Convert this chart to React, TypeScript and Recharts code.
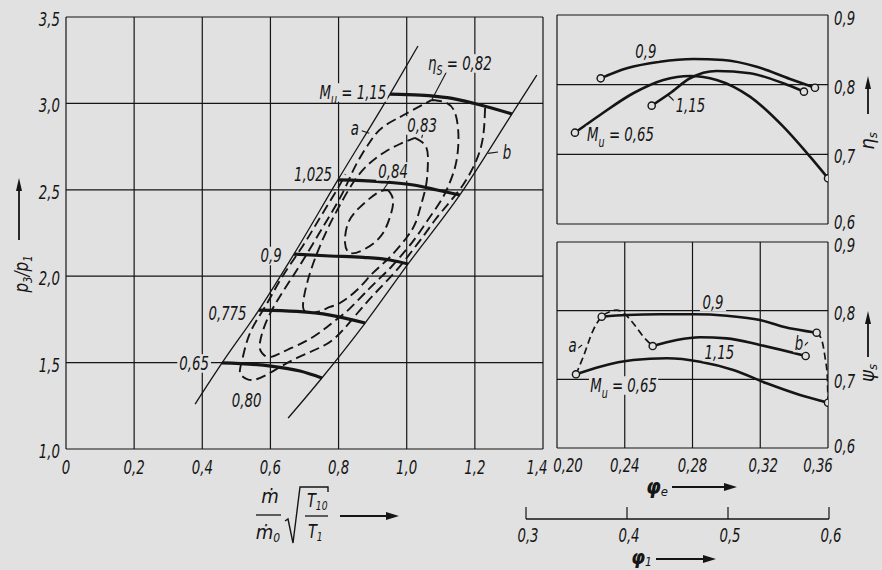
import React from 'react';
import { ComposedChart, Line, Scatter, XAxis, YAxis, CartesianGrid } from 'recharts';

const BG = '#e1e1e1';
const INK = '#151515';
const FONT = "'Liberation Sans Narrow','DejaVu Sans Condensed','Liberation Sans','DejaVu Sans',sans-serif";
const FS = 19.5;
const SQ = 0.76; // horizontal condensing of lettering

type P = [number, number];

// ---------- main map: pressure ratio vs reduced mass flow ----------
const massFlowTicks = [0, 0.2, 0.4, 0.6, 0.8, 1.0, 1.2, 1.4];
const massFlowTickLabels = ['0', '0,2', '0,4', '0,6', '0,8', '1,0', '1,2', '1,4'];
const pressureTicks = [1, 1.5, 2, 2.5, 3, 3.5];
const pressureTickLabels = ['1,0', '1,5', '2,0', '2,5', '3,0', '3,5'];

const surgeLineA: P[] = [[0.379, 1.26], [0.458, 1.498], [0.566, 1.804], [0.669, 2.128], [0.798, 2.557], [0.951, 3.054], [1.033, 3.332]];
const chokeLineB: P[] = [[0.652, 1.179], [0.751, 1.411], [0.878, 1.729], [1.004, 2.071], [1.156, 2.47], [1.309, 2.939], [1.382, 3.164]];

const speed065: P[] = [[0.458, 1.498], [0.601, 1.48], [0.687, 1.451], [0.751, 1.411]];
const speed0775: P[] = [[0.566, 1.804], [0.678, 1.796], [0.775, 1.775], [0.878, 1.729]];
const speed09: P[] = [[0.669, 2.128], [0.775, 2.117], [0.873, 2.109], [0.951, 2.094], [1.004, 2.071]];
const speed1025: P[] = [[0.798, 2.557], [0.922, 2.547], [1.02, 2.528], [1.089, 2.499], [1.156, 2.47]];
const speed115: P[] = [[0.951, 3.054], [1.04, 3.048], [1.119, 3.033], [1.196, 3.001], [1.309, 2.939]];

const eff084: P[] = [[0.945, 2.499], [0.96, 2.441], [0.951, 2.343], [0.922, 2.227], [0.872, 2.152], [0.834, 2.134], [0.819, 2.192], [0.828, 2.308], [0.863, 2.4], [0.913, 2.481], [0.945, 2.499]];
const eff083: P[] = [[1.024, 2.8], [1.057, 2.748], [1.062, 2.644], [1.057, 2.528], [1.042, 2.412], [1.027, 2.314], [1.001, 2.227], [0.951, 2.111], [0.901, 2.019], [0.854, 1.92], [0.804, 1.845], [0.775, 1.822], [0.737, 1.793], [0.704, 1.793], [0.696, 1.845], [0.71, 1.978], [0.737, 2.134], [0.769, 2.279], [0.804, 2.412], [0.848, 2.557], [0.892, 2.655], [0.936, 2.719], [0.98, 2.765], [1.024, 2.8]];
const eff082: P[] = [[1.074, 3.02], [1.118, 3.002], [1.142, 2.944], [1.151, 2.846], [1.151, 2.748], [1.142, 2.632], [1.121, 2.516], [1.098, 2.429], [1.062, 2.325], [1.03, 2.233], [0.998, 2.152], [0.957, 2.059], [0.922, 1.99], [0.886, 1.92], [0.828, 1.804], [0.792, 1.747], [0.725, 1.648], [0.649, 1.573], [0.599, 1.532], [0.575, 1.556], [0.569, 1.613], [0.59, 1.747], [0.634, 1.903], [0.687, 2.065], [0.74, 2.238], [0.784, 2.383], [0.819, 2.51], [0.851, 2.644], [0.892, 2.777], [0.93, 2.863], [0.98, 2.921], [1.018, 2.962], [1.074, 3.02]];
const eff080: P[] = [[1.23, 2.973], [1.227, 2.858], [1.218, 2.748], [1.197, 2.638], [1.165, 2.528], [1.124, 2.424], [1.083, 2.325], [1.051, 2.238], [1.018, 2.152], [0.971, 2.036], [0.916, 1.92], [0.863, 1.804], [0.813, 1.689], [0.76, 1.602], [0.678, 1.527], [0.608, 1.451], [0.561, 1.405], [0.531, 1.405], [0.511, 1.44], [0.517, 1.515], [0.54, 1.671], [0.584, 1.822], [0.634, 1.995], [0.693, 2.169], [0.745, 2.337], [0.795, 2.499], [0.82, 2.59]];

const mainLeaders: P[][] = [
  [[1.117, 3.183], [1.074, 3.023]],
  [[1.048, 2.83], [1.044, 2.8]],
  [[0.951, 2.557], [0.931, 2.499]],
  [[0.868, 2.842], [0.89, 2.827]],
  [[1.268, 2.719], [1.239, 2.711]],
];

const mainLabels = [
  { x: 0.842, y: 3.066, text: 'M_u = 1,15' },
  { x: 1.156, y: 3.234, text: 'η_S = 0,82' },
  { x: 1.045, y: 2.875, text: '0,83' },
  { x: 0.96, y: 2.609, text: '0,84' },
  { x: 0.848, y: 2.858, text: 'a' },
  { x: 1.294, y: 2.719, text: 'b' },
  { x: 0.725, y: 2.589, text: '1,025' },
  { x: 0.602, y: 2.12, text: '0,9' },
  { x: 0.474, y: 1.79, text: '0,775' },
  { x: 0.376, y: 1.498, text: '0,65' },
  { x: 0.53, y: 1.284, text: '0,80' },
];

// ---------- right panels: vs phi_e ----------
const phiETicks = [0.2, 0.24, 0.28, 0.32, 0.36];
const phiETickLabels = ['0,20', '0,24', '0,28', '0,32', '0,36'];
const coeffTicks = [0.6, 0.7, 0.8, 0.9];
const coeffTickLabels = ['0,6', '0,7', '0,8', '0,9'];

const etaCurve09: P[] = [[0.2258, 0.8091], [0.2412, 0.8234], [0.2608, 0.8329], [0.2805, 0.8368], [0.2982, 0.8353], [0.3179, 0.8257], [0.3376, 0.8081], [0.3523, 0.7956]];
const etaCurve115: P[] = [[0.2559, 0.7699], [0.2667, 0.7877], [0.2785, 0.8092], [0.2943, 0.8197], [0.3139, 0.8164], [0.3336, 0.802], [0.3458, 0.79]];
const etaCurve065: P[] = [[0.2106, 0.7311], [0.2254, 0.7565], [0.245, 0.7877], [0.2628, 0.8068], [0.2785, 0.8125], [0.2943, 0.8068], [0.3139, 0.7828], [0.3336, 0.7397], [0.3494, 0.6966], [0.36, 0.6656]];
const etaLeaders: P[][] = [[[0.2707, 0.7733], [0.2655, 0.7852]]];
const etaLabels = [
  { x: 0.2525, y: 0.8484, text: '0,9' },
  { x: 0.2788, y: 0.7709, text: '1,15' },
  { x: 0.2375, y: 0.7285, text: 'M_u = 0,65' },
];

const psiCurve09: P[] = [[0.2264, 0.7912], [0.2412, 0.7936], [0.2608, 0.7947], [0.2805, 0.7947], [0.3002, 0.7926], [0.3199, 0.7864], [0.3336, 0.7766], [0.3533, 0.7679]];
const psiCurve115: P[] = [[0.2565, 0.7485], [0.2707, 0.7572], [0.2844, 0.7612], [0.3002, 0.7597], [0.3199, 0.75], [0.3468, 0.734]];
const psiCurve065: P[] = [[0.2112, 0.7073], [0.2254, 0.7184], [0.245, 0.7281], [0.2648, 0.7306], [0.2844, 0.7257], [0.3041, 0.7136], [0.3238, 0.6942], [0.3435, 0.6772], [0.36, 0.666]];
const psiSurgeA: P[] = [[0.2112, 0.7073], [0.2155, 0.7329], [0.2214, 0.7718], [0.2264, 0.7912], [0.2313, 0.7985], [0.2352, 0.8009], [0.2391, 0.797], [0.245, 0.7816], [0.251, 0.7621], [0.2565, 0.7485]];
const psiChokeB: P[] = [[0.3533, 0.7679], [0.3563, 0.7572], [0.3582, 0.7329], [0.3596, 0.7038], [0.36, 0.666]];
const psiLeaders: P[][] = [[[0.2118, 0.7442], [0.2148, 0.75]], [[0.3452, 0.7471], [0.3482, 0.7543]]];
const psiLabels = [
  { x: 0.2921, y: 0.8133, text: '0,9' },
  { x: 0.2959, y: 0.7405, text: '1,15' },
  { x: 0.2393, y: 0.6917, text: 'M_u = 0,65' },
  { x: 0.2092, y: 0.75, text: 'a' },
  { x: 0.3429, y: 0.7536, text: 'b' },
];

// ---------- secondary scale phi_1 ----------
const phi1Ticks = [0.3, 0.4, 0.5, 0.6];
const phi1TickLabels = ['0,3', '0,4', '0,5', '0,6'];

const pts = (a: P[]) => a.map(([x, y]) => ({ x, y }));

function parseRich(s: string) {
  const segs: { t: string; sub: boolean }[] = [];
  let buf = '';
  for (let i = 0; i < s.length; i++) {
    if (s[i] === '_' && i + 1 < s.length) {
      if (buf) segs.push({ t: buf, sub: false });
      buf = '';
      segs.push({ t: s[i + 1], sub: true });
      i++;
    } else buf += s[i];
  }
  if (buf) segs.push({ t: buf, sub: false });
  return segs;
}

// condensed italic text drawn at (x, y) baseline
function CText({ x, y, anchor = 'middle', fs = FS, children, weight }: any) {
  return (
    <g transform={`translate(${x},${y}) scale(${SQ},1)`}>
      <text x={0} y={0} textAnchor={anchor} fontFamily={FONT} fontStyle="italic" fontSize={fs} fontWeight={weight} fill={INK} style={{ whiteSpace: 'pre' }}>
        {children}
      </text>
    </g>
  );
}

function RichLabel({ cx, cy, text, fs = FS }: { cx: number; cy: number; text: string; fs?: number }) {
  const segs = parseRich(text);
  const w = SQ * segs.reduce((acc, s) => acc + s.t.length * (s.sub ? 0.4 : 0.5) * fs, 0);
  let prevSub = false;
  const kids = segs.map((s, i) => {
    const dy = s.sub ? fs * 0.28 : prevSub ? -fs * 0.28 : 0;
    prevSub = s.sub;
    return (
      <tspan key={i} dy={dy} fontSize={s.sub ? fs * 0.72 : fs}>
        {s.t}
      </tspan>
    );
  });
  return (
    <g>
      <rect x={cx - w / 2 - 2} y={cy - fs * 0.45} width={w + 4} height={fs * 0.95} fill={BG} />
      <CText x={cx} y={cy + fs * 0.36} fs={fs}>
        {kids}
      </CText>
    </g>
  );
}

const labelShape = (p: any) => <RichLabel cx={p.cx} cy={p.cy} text={p.payload.text} />;

const lookup = (ticks: number[], labels: string[], v: number) => {
  const i = ticks.findIndex((t) => Math.abs(t - v) < 1e-9);
  return i >= 0 ? labels[i] : '';
};
const near = (a: number, b: number) => Math.abs(a - b) < 1e-9;

const MainXTick = (p: any) => (
  <CText x={p.x + (near(p.payload.value, 1.4) ? -6 : 0)} y={p.y + 25}>
    {lookup(massFlowTicks, massFlowTickLabels, p.payload.value)}
  </CText>
);
const MainYTick = (p: any) => (
  <CText x={p.x} y={p.y + 9} anchor="end">
    {lookup(pressureTicks, pressureTickLabels, p.payload.value)}
  </CText>
);
const rightShift = (v: number) => (near(v, 0.6) ? 5 : near(v, 0.9) ? 10 : 9);
const RightYTick = (p: any) => (
  <CText x={p.x} y={p.y + rightShift(p.payload.value)} anchor="start">
    {lookup(coeffTicks, coeffTickLabels, p.payload.value)}
  </CText>
);
const phiEShift = (v: number) => (near(v, 0.2) ? 11 : near(v, 0.36) ? -10 : near(v, 0.32) ? 3 : 0);
const PhiETick = (p: any) => (
  <CText x={p.x + phiEShift(p.payload.value)} y={p.y + 24}>
    {lookup(phiETicks, phiETickLabels, p.payload.value)}
  </CText>
);
const Phi1Tick = (p: any) => (
  <g>
    <line x1={p.x} y1={p.y} x2={p.x} y2={p.y - 12} stroke={INK} strokeWidth={1.2} />
    <CText x={p.x + 2} y={p.y + 23}>
      {lookup(phi1Ticks, phi1TickLabels, p.payload.value)}
    </CText>
  </g>
);

const endDots = (len: number) => (p: any) =>
  p.index === 0 || p.index === len - 1 ? (
    <circle key={`d${p.index}`} cx={p.cx} cy={p.cy} r={3.6} fill={BG} stroke={INK} strokeWidth={1.4} />
  ) : (
    <g key={`d${p.index}`} />
  );

const abs: React.CSSProperties = { position: 'absolute', left: 0, top: 0 };

function thinLine(data: P[], key: string, w = 1.3) {
  return (
    <Line key={key} data={pts(data)} dataKey="y" type="monotone" stroke={INK} strokeWidth={w} dot={false} activeDot={false} isAnimationActive={false} />
  );
}

export default function App() {
  return (
    <div style={{ ...abs, width: 882, height: 570, background: BG, overflow: 'hidden' }}>
      {/* main map */}
      <div style={abs}>
        <ComposedChart width={882} height={570} margin={{ top: 17, left: 6, right: 339, bottom: 91 }}>
          <CartesianGrid stroke={INK} strokeWidth={1.2} />
          <XAxis dataKey="x" type="number" domain={[0, 1.4]} ticks={massFlowTicks} allowDataOverflow height={30} axisLine={false} tickLine={false} tickSize={0} tickMargin={0} tick={MainXTick} interval={0} />
          <YAxis dataKey="y" type="number" domain={[1, 3.5]} ticks={pressureTicks} allowDataOverflow width={60} axisLine={false} tickLine={false} tickSize={0} tickMargin={6} tick={MainYTick} interval={0} />
          {[eff080, eff082, eff083, eff084].map((c, i) => (
            <Line key={`e${i}`} data={pts(c)} dataKey="y" type="natural" stroke={INK} strokeWidth={1.9} strokeDasharray="10 5" dot={false} activeDot={false} isAnimationActive={false} />
          ))}
          {thinLine(surgeLineA, 'a')}
          {thinLine(chokeLineB, 'b')}
          {[speed065, speed0775, speed09, speed1025, speed115].map((c, i) => (
            <Line key={`m${i}`} data={pts(c)} dataKey="y" type="monotone" stroke={INK} strokeWidth={3.2} dot={false} activeDot={false} isAnimationActive={false} />
          ))}
          {mainLeaders.map((c, i) => thinLine(c, `l${i}`, 1.1))}
          <Scatter data={mainLabels} shape={labelShape} isAnimationActive={false} />
        </ComposedChart>
      </div>

      {/* efficiency panel */}
      <div style={abs}>
        <ComposedChart width={882} height={570} margin={{ top: 15, left: 557, right: 14, bottom: 346 }}>
          <CartesianGrid stroke={INK} strokeWidth={1.2} />
          <XAxis dataKey="x" type="number" domain={[0.2, 0.36]} ticks={phiETicks} allowDataOverflow height={0} axisLine={false} tickLine={false} tick={false} interval={0} />
          <YAxis dataKey="y" type="number" orientation="right" domain={[0.6, 0.9]} ticks={coeffTicks} allowDataOverflow width={40} axisLine={false} tickLine={false} tickSize={0} tickMargin={6} tick={RightYTick} interval={0} />
          {[etaCurve065, etaCurve115, etaCurve09].map((c, i) => (
            <Line key={`h${i}`} data={pts(c)} dataKey="y" type="monotone" stroke={INK} strokeWidth={2.6} dot={endDots(c.length)} activeDot={false} isAnimationActive={false} />
          ))}
          {etaLeaders.map((c, i) => thinLine(c, `hl${i}`, 1.1))}
          <Scatter data={etaLabels} shape={labelShape} isAnimationActive={false} />
        </ComposedChart>
      </div>

      {/* pressure coefficient panel */}
      <div style={abs}>
        <ComposedChart width={882} height={570} margin={{ top: 242, left: 557, right: 14, bottom: 92 }}>
          <CartesianGrid stroke={INK} strokeWidth={1.2} />
          <XAxis dataKey="x" type="number" domain={[0.2, 0.36]} ticks={phiETicks} allowDataOverflow height={30} axisLine={false} tickLine={false} tickSize={0} tickMargin={0} tick={PhiETick} interval={0} />
          <YAxis dataKey="y" type="number" orientation="right" domain={[0.6, 0.9]} ticks={coeffTicks} allowDataOverflow width={40} axisLine={false} tickLine={false} tickSize={0} tickMargin={6} tick={RightYTick} interval={0} />
          {[psiSurgeA, psiChokeB].map((c, i) => (
            <Line key={`s${i}`} data={pts(c)} dataKey="y" type="monotone" stroke={INK} strokeWidth={1.7} strokeDasharray="7 4" dot={false} activeDot={false} isAnimationActive={false} />
          ))}
          {psiLeaders.map((c, i) => thinLine(c, `pl${i}`, 1.1))}
          {[psiCurve065, psiCurve115, psiCurve09].map((c, i) => (
            <Line key={`p${i}`} data={pts(c)} dataKey="y" type="monotone" stroke={INK} strokeWidth={2.6} dot={endDots(c.length)} activeDot={false} isAnimationActive={false} />
          ))}
          <Scatter data={psiLabels} shape={labelShape} isAnimationActive={false} />
        </ComposedChart>
      </div>

      {/* phi_1 scale */}
      <div style={abs}>
        <ComposedChart width={882} height={570} margin={{ top: 490, left: 526, right: 53, bottom: 21 }}>
          <XAxis dataKey="x" type="number" domain={[0.3, 0.6]} ticks={phi1Ticks} height={30} axisLine={{ stroke: INK, strokeWidth: 1.3 }} tickLine={false} tickSize={0} tickMargin={0} tick={Phi1Tick} interval={0} />
          <YAxis dataKey="y" type="number" domain={[0, 1]} hide />
          <Line data={phi1Ticks.map((v) => ({ x: v, y: 0 }))} dataKey="y" stroke="none" dot={false} activeDot={false} isAnimationActive={false} />
        </ComposedChart>
      </div>

      {/* axis titles */}
      <svg width={882} height={570} style={{ ...abs, pointerEvents: 'none' }} fontFamily={FONT} fontStyle="italic" fill={INK}>
        <g transform="translate(28,274) rotate(-90) scale(0.85,1)">
          <text textAnchor="middle" fontSize={20}>
            p<tspan fontSize={13} dy={4}>3</tspan>
            <tspan fontSize={20} dy={-4}>/p</tspan>
            <tspan fontSize={13} dy={4}>1</tspan>
          </text>
        </g>
        <line x1={19} y1={240} x2={19} y2={188} stroke={INK} strokeWidth={1.8} />
        <polygon points="19,178 16,191 22,191" fill={INK} />

        {/* x title: m/m0 sqrt(T10/T1) */}
        <text x={270} y={503} textAnchor="middle" fontSize={20}>ṁ</text>
        <line x1={256} y1={515} x2={281} y2={515} stroke={INK} strokeWidth={1.3} />
        <text x={268} y={539} textAnchor="middle" fontSize={20}>
          ṁ<tspan fontSize={12} dy={3}>0</tspan>
        </text>
        <polyline points="285,521 288,519 293,543 300,487 328,487 328,492" fill="none" stroke={INK} strokeWidth={1.4} />
        <g transform="translate(307,507) scale(0.85,1)">
          <text fontSize={19}>
            T<tspan fontSize={12} dy={3}>10</tspan>
          </text>
        </g>
        <line x1={305} y1={516} x2={328} y2={516} stroke={INK} strokeWidth={1.3} />
        <g transform="translate(308,538) scale(0.85,1)">
          <text fontSize={19}>
            T<tspan fontSize={12} dy={3}>1</tspan>
          </text>
        </g>
        <line x1={340} y1={516} x2={388} y2={516} stroke={INK} strokeWidth={2} />
        <polygon points="399,516 386,512 386,520" fill={INK} />

        {/* eta_s */}
        <g transform="translate(874,141) rotate(-90)">
          <text textAnchor="middle" fontSize={20}>
            η<tspan fontSize={13} dy={3}>s</tspan>
          </text>
        </g>
        <line x1={868} y1={114} x2={868} y2={86} stroke={INK} strokeWidth={1.8} />
        <polygon points="868,76 865,89 871,89" fill={INK} />

        {/* psi_s */}
        <g transform="translate(874,373) rotate(-90)">
          <text textAnchor="middle" fontSize={20}>
            ψ<tspan fontSize={13} dy={3}>s</tspan>
          </text>
        </g>
        <line x1={868} y1={357} x2={868} y2={322} stroke={INK} strokeWidth={1.8} />
        <polygon points="868,311 865,324 871,324" fill={INK} />

        {/* phi_e */}
        <text x={646} y={494} fontSize={21} fontWeight="bold">
          φ<tspan fontSize={13} dy={2} fontWeight="normal">e</tspan>
        </text>
        <line x1={672} y1={487} x2={726} y2={487} stroke={INK} strokeWidth={2} />
        <polygon points="737,487 724,483 724,491" fill={INK} />

        {/* phi_1 */}
        <text x={631} y={564} fontSize={20} fontWeight="bold">
          φ<tspan fontSize={12} dy={2} fontWeight="normal">1</tspan>
        </text>
        <line x1={656} y1={559} x2={705} y2={559} stroke={INK} strokeWidth={2} />
        <polygon points="716,559 703,555 703,563" fill={INK} />
      </svg>
    </div>
  );
}
